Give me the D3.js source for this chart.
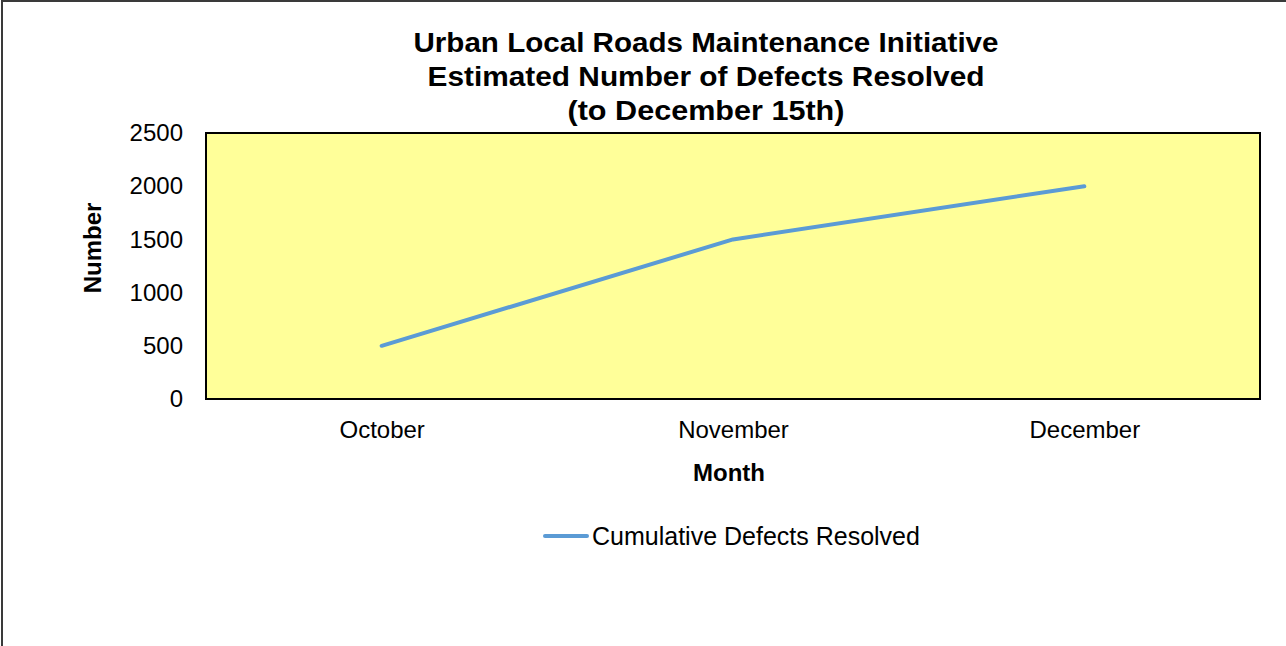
<!DOCTYPE html>
<html>
<head>
<meta charset="utf-8">
<script src="https://cdn.jsdelivr.net/npm/d3@7"></script>
<style>
  body { margin: 0; background: #fff; }
  svg { display: block; font-family: "Liberation Sans", Arial, sans-serif; }
</style>
</head>
<body>
<div id="chart"></div>
<script>
var months = ['October', 'November', 'December']
var defects = [500, 1500, 2000]
var yTicks = [0, 500, 1000, 1500, 2000, 2500]
var titleLines = [
  'Urban Local Roads Maintenance Initiative',
  'Estimated Number of Defects Resolved',
  '(to December 15th)'
]
var seriesName = 'Cumulative Defects Resolved'

var width = 1286, height = 646
var svg = d3.select('#chart').append('svg')
  .attr('width', width).attr('height', height)

// outer chart frame (right/bottom run off the picture)
svg.append('rect')
  .attr('x', 2).attr('y', 1).attr('width', width + 10).attr('height', height + 10)
  .attr('fill', '#fff').attr('stroke', '#3a3a3a').attr('stroke-width', 2)

var plot = {left: 206, top: 133, right: 1260, bottom: 399}

var x = d3.scalePoint()
  .domain(months)
  .range([plot.left, plot.right])
  .padding(0.5)

var y = d3.scaleLinear()
  .domain([0, 2500])
  .range([plot.bottom, plot.top])

svg.append('rect')
  .attr('x', plot.left).attr('y', plot.top)
  .attr('width', plot.right - plot.left).attr('height', plot.bottom - plot.top)
  .attr('fill', '#FFFF99').attr('stroke', '#000').attr('stroke-width', 2)

// axes without tick marks or domain line
var yAxis = svg.append('g')
  .attr('transform', `translate(${plot.left},0)`)
  .call(d3.axisLeft(y).tickValues(yTicks).tickSize(0).tickPadding(23).tickFormat(d3.format('d')))
yAxis.select('.domain').remove()
yAxis.selectAll('text').attr('font-size', 24).attr('fill', '#000')
  .attr('font-family', '"Liberation Sans", Arial, sans-serif')

var xAxis = svg.append('g')
  .attr('transform', `translate(0,${plot.bottom})`)
  .call(d3.axisBottom(x).tickSize(0).tickPadding(22))
xAxis.select('.domain').remove()
xAxis.selectAll('text').attr('font-size', 24).attr('fill', '#000')
  .attr('font-family', '"Liberation Sans", Arial, sans-serif')

var line = d3.line()
  .x((d, i) => x(months[i]))
  .y(d => y(d))

svg.append('path')
  .datum(defects)
  .attr('d', line)
  .attr('fill', 'none')
  .attr('stroke', '#5B9BD5')
  .attr('stroke-width', 4)
  .attr('stroke-linecap', 'round')
  .attr('stroke-linejoin', 'round')

// title
var titleWidths = [585, 557, 277]
svg.append('g').selectAll('text')
  .data(titleLines)
  .join('text')
  .attr('x', 706)
  .attr('y', (d, i) => 52 + i * 34)
  .attr('text-anchor', 'middle')
  .attr('font-size', 28)
  .attr('font-weight', 'bold')
  .attr('textLength', (d, i) => titleWidths[i])
  .attr('lengthAdjust', 'spacingAndGlyphs')
  .text(d => d)

// axis titles
svg.append('text')
  .attr('x', 729).attr('y', 481)
  .attr('text-anchor', 'middle')
  .attr('font-size', 24).attr('font-weight', 'bold')
  .text('Month')

svg.append('text')
  .attr('transform', 'translate(101,248) rotate(-90)')
  .attr('text-anchor', 'middle')
  .attr('font-size', 24).attr('font-weight', 'bold')
  .text('Number')

// legend
var legend = svg.append('g').attr('transform', 'translate(545,536)')
legend.append('line')
  .attr('x1', 0).attr('x2', 42).attr('y1', 0).attr('y2', 0)
  .attr('stroke', '#5B9BD5').attr('stroke-width', 4).attr('stroke-linecap', 'round')
legend.append('text')
  .attr('x', 47).attr('y', 9)
  .attr('font-size', 25)
  .text(seriesName)
</script>
</body>
</html>
